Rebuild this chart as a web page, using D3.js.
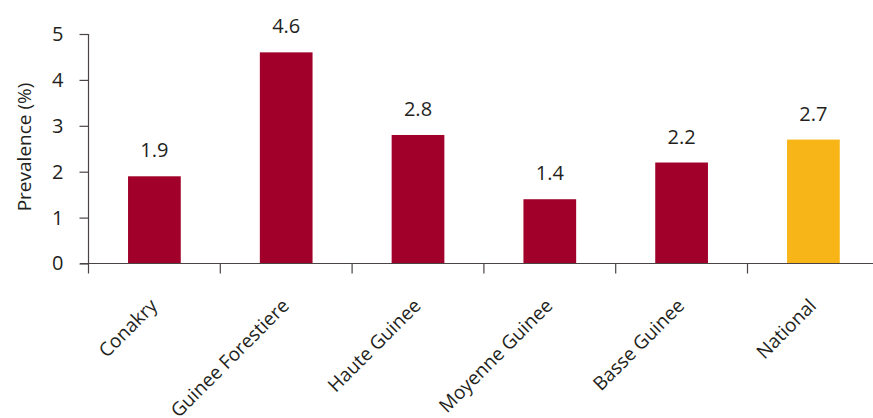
<!DOCTYPE html>
<html><head><meta charset="utf-8">
<script src="https://cdn.jsdelivr.net/npm/d3@7"></script>
<style>body{margin:0;background:#fff}svg{display:block}text{font-family:"Open Sans","Noto Sans",sans-serif;fill:#231f20}</style>
</head><body><svg id="c" width="873" height="418"></svg>
<script>
const categories = ["Conakry","Guinee Forestiere","Haute Guinee","Moyenne Guinee","Basse Guinee","National"];
const values = [1.9, 4.6, 2.8, 1.4, 2.2, 2.7];
const barColors = ["#a0002a","#a0002a","#a0002a","#a0002a","#a0002a","#f7b518"];
const yTicks = [0,1,2,3,4,5];
const yLabel = "Prevalence (%)";

const svg = d3.select("#c");
const x = d3.scaleBand().domain(categories).range([88.5, 88.5 + 6*131.8]).padding(0);
const y = d3.scaleLinear().domain([0,5]).range([263.5, 34]);
const axisColor = "#4a4445";
const bw = x.bandwidth()*0.4;

// bars
svg.selectAll("rect.bar").data(values).join("rect")
  .attr("x",(d,i)=>x(categories[i])+x.bandwidth()/2-bw/2)
  .attr("y",d=>y(d)).attr("width",bw).attr("height",d=>y(0)-y(d))
  .attr("fill",(d,i)=>barColors[i]);

// value labels
svg.selectAll("text.val").data(values).join("text")
  .attr("x",(d,i)=>x(categories[i])+x.bandwidth()/2)
  .attr("y",d=>y(d)-19).attr("text-anchor","middle")
  .style("font-size","20px").text(d=>d.toFixed(1));

// y axis
const ya = svg.append("g").attr("transform","translate(88.5,0)")
  .call(d3.axisLeft(y).tickValues(yTicks).tickSize(9).tickPadding(16).tickFormat(d3.format("d")));
ya.select(".domain").attr("stroke",axisColor).attr("stroke-width",1.2).attr("d","M0,"+y(5)+"V"+y(0));
ya.selectAll(".tick line").attr("stroke",axisColor).attr("stroke-width",1.2);
ya.selectAll(".tick text").style("font-size","20px").attr("fill","#231f20").style("font-family",'"Open Sans",sans-serif');

// x axis
const xa = svg.append("g").attr("transform","translate(0,263.5)");
xa.append("line").attr("x1",80).attr("x2",873).attr("stroke",axisColor).attr("stroke-width",1.2);
const bounds = categories.map(c=>x(c));
xa.selectAll("line.t").data(bounds).join("line").attr("class","t")
  .attr("x1",d=>d).attr("x2",d=>d).attr("y1",0).attr("y2",10)
  .attr("stroke",axisColor).attr("stroke-width",1.2);

svg.selectAll("text.cat").data(categories).join("text")
  .attr("text-anchor","end")
  .attr("transform",c=>`translate(${x(c)+x.bandwidth()/2+4},${307}) rotate(-45)`)
  .style("font-size","19px").text(c=>c);

// y label
svg.append("text").attr("transform",`translate(31,147) rotate(-90)`)
  .attr("text-anchor","middle").style("font-size","19px").text(yLabel);
</script></body></html>
